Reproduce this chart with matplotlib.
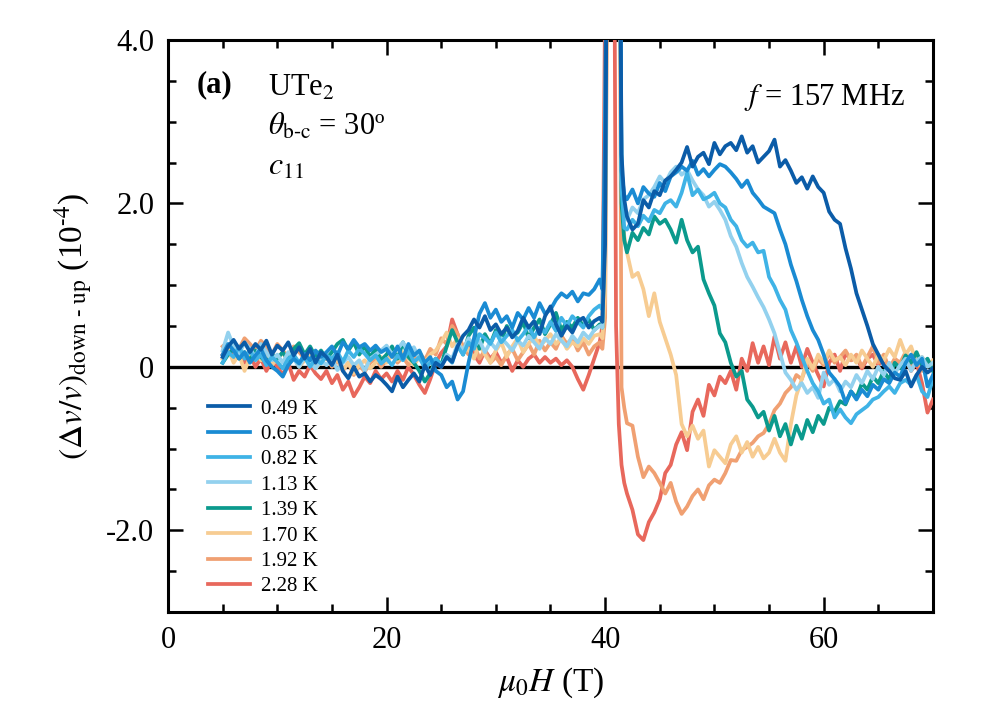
import numpy as np
import matplotlib
matplotlib.use("Agg")
import matplotlib.pyplot as plt
from matplotlib.ticker import MultipleLocator, FuncFormatter

plt.rcParams['font.family'] = 'serif'
plt.rcParams['font.serif'] = ['Liberation Serif', 'DejaVu Serif']
plt.rcParams['mathtext.fontset'] = 'stix'

# field grid (T): 0.5 T steps, finer through the jump near 40 T
field = np.concatenate([np.arange(5.0, 39.25, 0.5),
                        np.arange(39.5, 41.9, 0.25),
                        np.arange(42.0, 70.25, 0.5)])

temps = ['0.49 K', '0.65 K', '0.82 K', '1.13 K', '1.39 K', '1.70 K', '1.92 K', '2.28 K']
colors = ['#0b5ca8', '#1a8bd3', '#3fb3e6', '#93d1ee', '#0b9a8d', '#f7cc92', '#f0a072', '#e8685c']

d049 = [0.12, 0.25, 0.33, 0.22, 0.30, 0.18, 0.28, 0.21, 0.32, 0.15,
        0.26, 0.20, 0.30, 0.14, 0.24, 0.10, 0.22, 0.05, 0.18, 0.12,
        0.02, 0.15, -0.05, -0.14, 0.00, -0.12, -0.08, -0.18, -0.10, -0.15,
        -0.22, -0.30, -0.12, -0.25, -0.16, -0.08, -0.18, 0.02, -0.10, 0.05,
        0.00, 0.12, 0.06, 0.25, 0.38, 0.45, 0.58, 0.48, 0.62, 0.45,
        0.52, 0.40, 0.48, 0.36, 0.44, 0.60, 0.48, 0.56, 0.40, 0.62,
        0.74, 0.52, 0.38, 0.50, 0.42, 0.56, 0.60, 0.48, 0.56,
        0.60, 0.55, 1.50, 8.0, 8.0, 8.0, 8.0, 8.0, 2.60, 2.05,
        1.84, 1.68, 1.75, 2.04, 1.95, 2.15, 2.10, 2.28, 2.33, 2.41,
        2.50, 2.69, 2.45, 2.57, 2.62, 2.48, 2.74, 2.60, 2.70, 2.74,
        2.65, 2.82, 2.62, 2.70, 2.50, 2.57, 2.64, 2.78, 2.45, 2.53,
        2.40, 2.25, 2.32, 2.18, 2.33, 2.20, 2.13, 1.90, 1.80, 1.75,
        1.45, 1.20, 0.90, 0.70, 0.50, 0.28, 0.15, 0.02, -0.05, -0.14,
        -0.16, -0.05, -0.24, -0.10, 0.00, -0.07, -0.02]

d065 = [0.15, 0.28, 0.20, 0.10, 0.18, 0.05, 0.14, 0.22, 0.08, 0.00,
        -0.05, -0.12, 0.02, 0.10, 0.04, 0.16, 0.08, 0.20, 0.12, 0.18,
        0.25, 0.14, 0.30, 0.22, 0.33, 0.24, 0.28, 0.20, 0.26, 0.18,
        0.22, 0.12, 0.25, 0.10, 0.28, 0.14, 0.20, 0.05, 0.12, -0.05,
        -0.10, -0.25, -0.18, -0.40, -0.30, 0.05, 0.35, 0.65, 0.78, 0.60,
        0.70, 0.55, 0.62, 0.48, 0.66, 0.58, 0.72, 0.60, 0.78, 0.65,
        0.70, 0.82, 0.90, 0.85, 0.92, 0.80, 0.90, 0.88, 0.95,
        1.07, 0.95, 3.00, 8.0, 8.0, 8.0, 8.0, 8.0, 2.40, 2.10,
        2.05, 2.17, 2.00, 2.20, 2.12, 2.08, 2.25, 2.15, 2.33, 2.38,
        2.45, 2.40, 2.52, 2.35, 2.42, 2.33, 2.41, 2.48, 2.45, 2.38,
        2.30, 2.20, 2.28, 2.13, 2.05, 1.96, 1.92, 1.88, 1.68, 1.50,
        1.25, 1.05, 0.82, 0.62, 0.45, 0.33, 0.15, -0.07, -0.15, -0.24,
        -0.44, -0.30, -0.40, -0.28, -0.36, -0.22, -0.28, -0.15, -0.20, -0.07,
        -0.12, 0.05, 0.15, 0.02, 0.10, -0.24, -0.10]

d082 = [0.05, 0.18, 0.12, 0.25, 0.10, 0.20, 0.08, 0.15, 0.02, 0.12,
        0.06, -0.02, 0.10, 0.15, 0.05, 0.12, 0.00, 0.10, 0.04, 0.14,
        0.10, 0.18, 0.06, 0.20, 0.12, 0.22, 0.16, 0.08, 0.14, 0.04,
        0.10, 0.02, 0.14, 0.08, 0.20, 0.06, 0.12, -0.02, 0.05, 0.10,
        0.02, 0.12, 0.05, 0.25, 0.15, 0.30, 0.22, 0.40, 0.35, 0.28,
        0.42, 0.30, 0.38, 0.45, 0.32, 0.40, 0.50, 0.36, 0.48, 0.42,
        0.55, 0.44, 0.60, 0.50, 0.62, 0.55, 0.48, 0.62, 0.70,
        0.75, 0.70, 2.50, 8.0, 8.0, 8.0, 8.0, 8.0, 2.20, 1.70,
        1.68, 1.80, 1.72, 1.85, 1.78, 1.92, 1.88, 2.00, 2.04, 1.96,
        2.13, 2.37, 2.10, 2.17, 2.05, 2.08, 2.13, 2.00, 1.95, 1.80,
        1.72, 1.55, 1.47, 1.52, 1.40, 1.42, 1.10, 0.98, 0.82, 0.70,
        0.45, 0.30, 0.12, -0.05, -0.20, -0.30, -0.45, -0.40, -0.62, -0.52,
        -0.62, -0.69, -0.58, -0.53, -0.48, -0.40, -0.37, -0.30, -0.24, -0.32,
        -0.20, -0.16, -0.22, -0.10, -0.30, -0.37, -0.15]

d113 = [0.20, 0.42, 0.25, 0.15, 0.30, 0.22, 0.12, 0.28, 0.18, 0.08,
        0.15, 0.05, 0.18, 0.10, 0.00, 0.12, 0.06, -0.02, 0.08, 0.02,
        0.10, -0.04, 0.05, 0.12, 0.02, 0.08, -0.05, 0.10, 0.15, 0.20,
        0.26, 0.15, 0.22, 0.30, 0.18, 0.24, 0.10, 0.02, -0.08, 0.05,
        0.00, 0.15, 0.10, 0.28, 0.20, 0.35, 0.25, 0.32, 0.18, 0.30,
        0.22, 0.35, 0.28, 0.20, 0.32, 0.26, 0.38, 0.30, 0.22, 0.35,
        0.28, 0.40, 0.32, 0.25, 0.38, 0.30, 0.42, 0.35, 0.45,
        0.50, 0.48, 2.00, 8.0, 8.0, 8.0, 8.0, 8.0, 2.30, 1.85,
        1.80, 1.95, 1.88, 2.05, 2.10, 2.20, 2.33, 2.25, 2.38, 2.45,
        2.35, 2.41, 2.28, 2.17, 2.10, 1.96, 2.02, 1.92, 1.80, 1.60,
        1.47, 1.27, 1.10, 0.98, 0.85, 0.73, 0.58, 0.41, 0.17, -0.07,
        -0.16, -0.28, -0.20, -0.32, -0.25, -0.38, -0.07, -0.22, -0.15, -0.30,
        -0.18, -0.25, -0.10, -0.20, -0.05, -0.15, 0.00, -0.10, 0.05, -0.08,
        0.02, 0.10, -0.05, 0.08, 0.12, 0.00, 0.05]

d139 = [0.05, 0.15, 0.22, 0.10, 0.18, 0.08, 0.20, 0.12, 0.05, 0.15,
        0.10, 0.18, 0.08, 0.22, 0.29, 0.15, 0.25, 0.12, 0.20, 0.10,
        0.18, 0.28, 0.33, 0.20, 0.30, 0.15, 0.25, 0.12, 0.22, 0.08,
        0.15, 0.25, 0.10, 0.30, 0.12, 0.05, -0.05, -0.18, -0.08, 0.10,
        0.02, 0.25, 0.45, 0.30, 0.15, 0.38, 0.48, 0.22, 0.40, 0.28,
        0.45, 0.32, 0.50, 0.38, 0.42, 0.55, 0.35, 0.48, 0.58, 0.40,
        0.52, 0.66, 0.45, 0.55, 0.48, 0.60, 0.50, 0.58, 0.45,
        0.52, 0.48, 1.80, 8.0, 8.0, 8.0, 8.0, 8.0, 2.00, 1.55,
        1.40, 1.64, 1.55, 1.70, 1.62, 1.84, 1.75, 1.80, 1.68, 1.52,
        1.80, 1.55, 1.40, 1.47, 1.07, 0.90, 0.75, 0.41, 0.30, 0.05,
        -0.12, -0.05, -0.40, -0.49, -0.62, -0.55, -0.78, -0.60, -0.85, -0.70,
        -0.95, -0.72, -0.88, -0.65, -0.80, -0.60, -0.70, -0.50, -0.55, -0.42,
        -0.46, -0.30, -0.38, -0.20, -0.28, -0.12, -0.20, -0.05, -0.16, 0.05,
        -0.02, 0.14, 0.05, 0.18, 0.02, 0.10, -0.05]

d170 = [0.10, 0.22, 0.05, 0.15, -0.05, 0.12, 0.20, 0.08, 0.15, 0.02,
        0.10, 0.18, 0.05, 0.12, 0.00, 0.08, 0.15, -0.02, 0.06, 0.12,
        0.02, 0.10, -0.04, 0.05, -0.08, 0.02, 0.08, -0.02, 0.05, 0.12,
        0.05, 0.15, 0.08, 0.18, 0.10, 0.02, 0.12, 0.05, 0.15, 0.20,
        0.30, 0.42, 0.25, 0.35, 0.18, 0.22, 0.10, 0.28, 0.15, 0.05,
        0.20, 0.30, 0.12, 0.25, 0.35, 0.18, 0.28, 0.38, 0.25, 0.32,
        0.40, 0.28, 0.35, 0.22, 0.30, 0.25, 0.35, 0.28, 0.38,
        0.40, 0.35, 0.90, 8.0, 8.0, 8.0, 8.0, 8.0, 2.00, 1.60,
        1.40, 1.10, 1.15, 0.95, 0.62, 0.90, 0.55, 0.35, 0.15, -0.10,
        -0.70, -0.85, -0.72, -0.88, -0.78, -1.22, -1.02, -1.10, -1.18, -0.95,
        -0.85, -1.05, -0.92, -1.10, -0.98, -1.12, -1.05, -0.88, -1.05, -1.15,
        -0.70, -0.35, -0.15, 0.10, -0.02, 0.15, 0.05, 0.20, 0.08, 0.12,
        0.02, 0.15, 0.05, 0.20, 0.10, 0.00, 0.15, 0.08, 0.22, 0.12,
        0.33, 0.15, 0.25, 0.05, 0.12, 0.02, 0.08]

d192 = [0.25, 0.18, 0.30, 0.22, 0.35, 0.28, 0.20, 0.32, 0.25, 0.15,
        0.28, 0.20, 0.12, 0.25, 0.18, 0.10, 0.22, 0.15, 0.05, 0.12,
        0.00, 0.08, -0.05, 0.05, -0.10, 0.02, -0.06, 0.05, 0.10, 0.00,
        0.08, 0.15, 0.05, 0.12, 0.02, 0.10, 0.18, 0.08, 0.22, 0.15,
        0.35, 0.28, 0.50, 0.40, 0.25, 0.15, 0.28, 0.10, 0.20, 0.05,
        0.12, 0.02, 0.15, 0.22, 0.08, 0.18, 0.28, 0.15, 0.32, 0.20,
        0.30, 0.22, 0.38, 0.28, 0.35, 0.20, 0.30, 0.15, 0.25,
        0.30, 0.22, 0.60, 6.0, 8.0, 8.0, 8.0, 8.0, -0.25, -0.50,
        -0.69, -0.72, -1.10, -1.35, -1.22, -1.30, -1.42, -1.55, -1.42, -1.65,
        -1.80, -1.71, -1.58, -1.50, -1.62, -1.45, -1.38, -1.42, -1.30, -1.14,
        -1.15, -1.02, -0.98, -0.93, -0.85, -0.81, -0.70, -0.53, -0.45, -0.32,
        -0.25, -0.10, -0.15, 0.05, -0.05, 0.10, 0.02, 0.17, 0.05, 0.12,
        0.20, 0.08, 0.15, 0.00, 0.12, 0.25, 0.05, 0.15, -0.02, 0.10,
        0.05, 0.18, 0.02, 0.10, -0.05, 0.08, 0.00]

d228 = [0.15, 0.25, 0.10, 0.20, 0.05, 0.15, 0.00, 0.10, -0.05, 0.08,
        0.00, -0.10, 0.05, -0.16, -0.05, -0.12, 0.02, -0.08, -0.15, -0.05,
        -0.20, -0.10, -0.28, -0.18, -0.36, -0.25, -0.12, -0.20, -0.05, -0.15,
        -0.08, -0.18, -0.05, -0.16, 0.00, -0.10, -0.22, -0.32, -0.15, 0.05,
        0.17, 0.25, 0.58, 0.40, 0.20, 0.30, 0.15, 0.05, 0.20, 0.10,
        0.18, 0.05, 0.12, -0.05, 0.08, 0.00, 0.10, 0.15, 0.05, 0.12,
        0.05, 0.10, 0.02, 0.08, 0.00, -0.15, -0.28, -0.10, 0.10,
        0.30, 0.50, 4.50, 8.0, 8.0, 8.0, 0.50, -0.70, -1.20, -1.42,
        -1.55, -1.75, -2.05, -2.12, -1.90, -1.78, -1.62, -1.30, -1.20, -0.95,
        -0.80, -1.02, -0.55, -0.40, -0.60, -0.22, -0.35, -0.12, -0.20, -0.05,
        -0.28, 0.10, -0.05, 0.29, 0.05, 0.25, 0.02, 0.37, 0.10, 0.30,
        0.05, 0.25, 0.00, 0.22, 0.05, -0.10, -0.24, 0.05, 0.15, -0.05,
        0.17, 0.08, 0.12, -0.02, 0.10, 0.15, 0.02, 0.12, -0.05, 0.08,
        0.02, 0.10, -0.05, 0.05, -0.20, -0.56, -0.40]

series = [d049, d065, d082, d113, d139, d170, d192, d228]

fig = plt.figure(figsize=(9.96, 7.26), dpi=100)
ax = fig.add_axes([0.1687, 0.157, 0.768, 0.788])

ax.axhline(0, color='black', lw=2.4, zorder=1)
for i, (lab, col, y) in enumerate(zip(temps, colors, series)):
    ax.plot(field, y, color=col, lw=2.7, label=lab, zorder=10 - i)

ax.set_xlim(0, 70)
ax.set_ylim(-3, 4)
ax.xaxis.set_major_locator(MultipleLocator(20))
ax.xaxis.set_minor_locator(MultipleLocator(5))
ax.yaxis.set_major_locator(MultipleLocator(2))
ax.yaxis.set_minor_locator(MultipleLocator(0.5))
ax.yaxis.set_major_formatter(FuncFormatter(lambda v, p: '0' if abs(v) < 1e-9 else f'{v:.1f}'))
ax.xaxis.set_major_formatter(FuncFormatter(lambda v, p: f'{v:.0f}'))
ax.tick_params(which='both', direction='in', top=True, right=True, width=1.8, labelsize=22)
ax.tick_params(which='major', length=11, pad=10)
ax.tick_params(which='minor', length=6)
for s in ax.spines.values():
    s.set_linewidth(2.2)

hy = '\u2010'
ax.set_xlabel(r'$\mu_0H$ (T)', fontsize=24, labelpad=8)
ax.set_ylabel(r'$(\Delta v/v)_{\rm down\ ' + hy + r'\ up}$ (10$^{' + hy + '4}$)', fontsize=24, labelpad=8)

ax.text(0.038, 0.921, '(a)', transform=ax.transAxes, fontsize=22, fontweight='bold', va='center')
ax.text(0.131, 0.916, 'UTe$_2$', transform=ax.transAxes, fontsize=22, va='center')
ax.text(0.131, 0.848, r'$\theta_{\rm b' + hy + r'c}$ = 30º', transform=ax.transAxes, fontsize=22, va='center')
ax.text(0.131, 0.778, r'$c_{11}$', transform=ax.transAxes, fontsize=23, va='center')
ax.text(0.963, 0.899, r'$f$ = 157 MHz', transform=ax.transAxes, fontsize=22, va='center', ha='right')

ax.legend(loc='upper left', bbox_to_anchor=(0.042, 0.387), frameon=False, fontsize=15,
          handlelength=2.0, handletextpad=0.5, labelspacing=0.28, borderaxespad=0)

fig.savefig('out.png', dpi=100)
